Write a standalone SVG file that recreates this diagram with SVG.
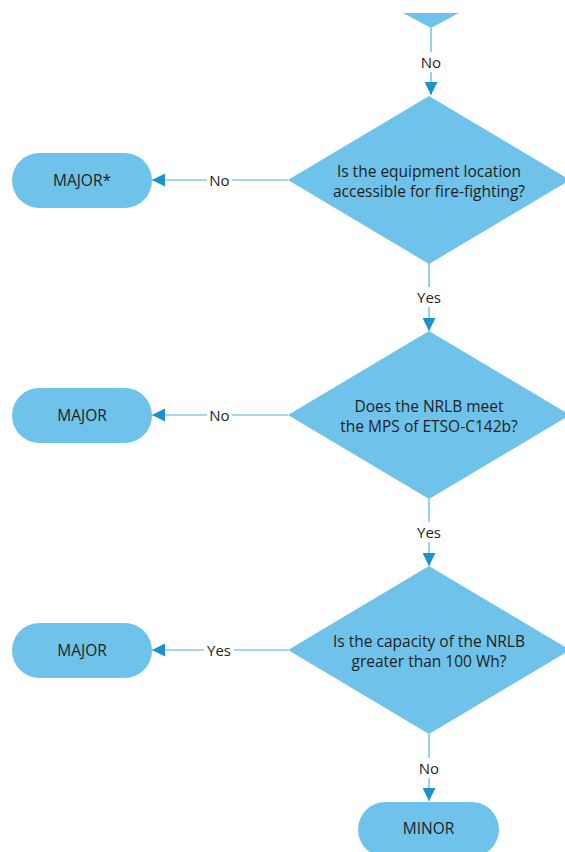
<svg xmlns="http://www.w3.org/2000/svg" width="565" height="852" viewBox="0 0 565 852">
<defs>
<style>
.shape{fill:#6fc3ea;}
.txt{font-family:"Open Sans","Noto Sans",sans-serif;font-size:15.5px;fill:#1e1e1e;text-anchor:middle;dominant-baseline:central;}
.line{stroke:#4fb0dd;stroke-width:1.2;fill:none;}
.lbl{font-family:"Open Sans","Noto Sans",sans-serif;font-size:15px;fill:#1e1e1e;text-anchor:middle;dominant-baseline:central;}
.lblbg{fill:#ffffff;}
</style>
<marker id="arr" viewBox="0 0 10 10" refX="10" refY="5" markerWidth="13" markerHeight="13" markerUnits="userSpaceOnUse" orient="auto">
<path d="M0,0 L10,5 L0,10 Z" fill="#1b92d0"/>
</marker>
</defs>
<rect width="565" height="852" fill="#ffffff"/>
<g id="connectors">
<line class="line" x1="431" y1="28" x2="431" y2="95" marker-end="url(#arr)"/>
<rect class="lblbg" x="418" y="52" width="26" height="20"/>
<text class="lbl" x="431" y="62">No</text>
<line class="line" x1="288" y1="180" x2="152" y2="180" marker-end="url(#arr)"/>
<rect class="lblbg" x="207" y="170" width="25" height="20"/>
<text class="lbl" x="219.5" y="180">No</text>
<line class="line" x1="429" y1="263" x2="429" y2="331" marker-end="url(#arr)"/>
<rect class="lblbg" x="414" y="287" width="30" height="20"/>
<text class="lbl" x="429" y="297">Yes</text>
<line class="line" x1="288" y1="415" x2="152" y2="415" marker-end="url(#arr)"/>
<rect class="lblbg" x="207" y="405" width="25" height="20"/>
<text class="lbl" x="219.5" y="415">No</text>
<line class="line" x1="429" y1="499" x2="429" y2="566" marker-end="url(#arr)"/>
<rect class="lblbg" x="414" y="522" width="30" height="20"/>
<text class="lbl" x="429" y="532">Yes</text>
<line class="line" x1="288" y1="650" x2="152" y2="650" marker-end="url(#arr)"/>
<rect class="lblbg" x="204" y="640" width="30" height="20"/>
<text class="lbl" x="219" y="650">Yes</text>
<line class="line" x1="429" y1="734" x2="429" y2="801" marker-end="url(#arr)"/>
<rect class="lblbg" x="416" y="758" width="26" height="20"/>
<text class="lbl" x="429" y="768">No</text>
</g>
<g id="prev-decision">
<polygon class="shape" points="403,13 459,13 431,28"/>
</g>
<g id="decision-access">
<polygon class="shape" points="429,96 570,180 429,264 288,180"/>
<text class="txt" x="429" y="171">Is the equipment location</text>
<text class="txt" x="429" y="191">accessible for fire-fighting?</text>
</g>
<g id="major-star">
<rect class="shape" x="12" y="153" width="140" height="55" rx="27.5"/>
<text class="txt" x="82" y="180">MAJOR*</text>
</g>
<g id="decision-mps">
<polygon class="shape" points="429,331 570,415 429,499 288,415"/>
<text class="txt" x="429" y="406">Does the NRLB meet</text>
<text class="txt" x="429" y="426">the MPS of ETSO-C142b?</text>
</g>
<g id="major-2">
<rect class="shape" x="12" y="388" width="140" height="55" rx="27.5"/>
<text class="txt" x="82" y="415">MAJOR</text>
</g>
<g id="decision-capacity">
<polygon class="shape" points="429,566 570,650 429,734 288,650"/>
<text class="txt" x="429" y="641">Is the capacity of the NRLB</text>
<text class="txt" x="429" y="661">greater than 100 Wh?</text>
</g>
<g id="major-3">
<rect class="shape" x="12" y="623" width="140" height="55" rx="27.5"/>
<text class="txt" x="82" y="650">MAJOR</text>
</g>
<g id="minor">
<rect class="shape" x="358" y="802" width="141" height="55" rx="27.5"/>
<text class="txt" x="428.5" y="828">MINOR</text>
</g>
</svg>
